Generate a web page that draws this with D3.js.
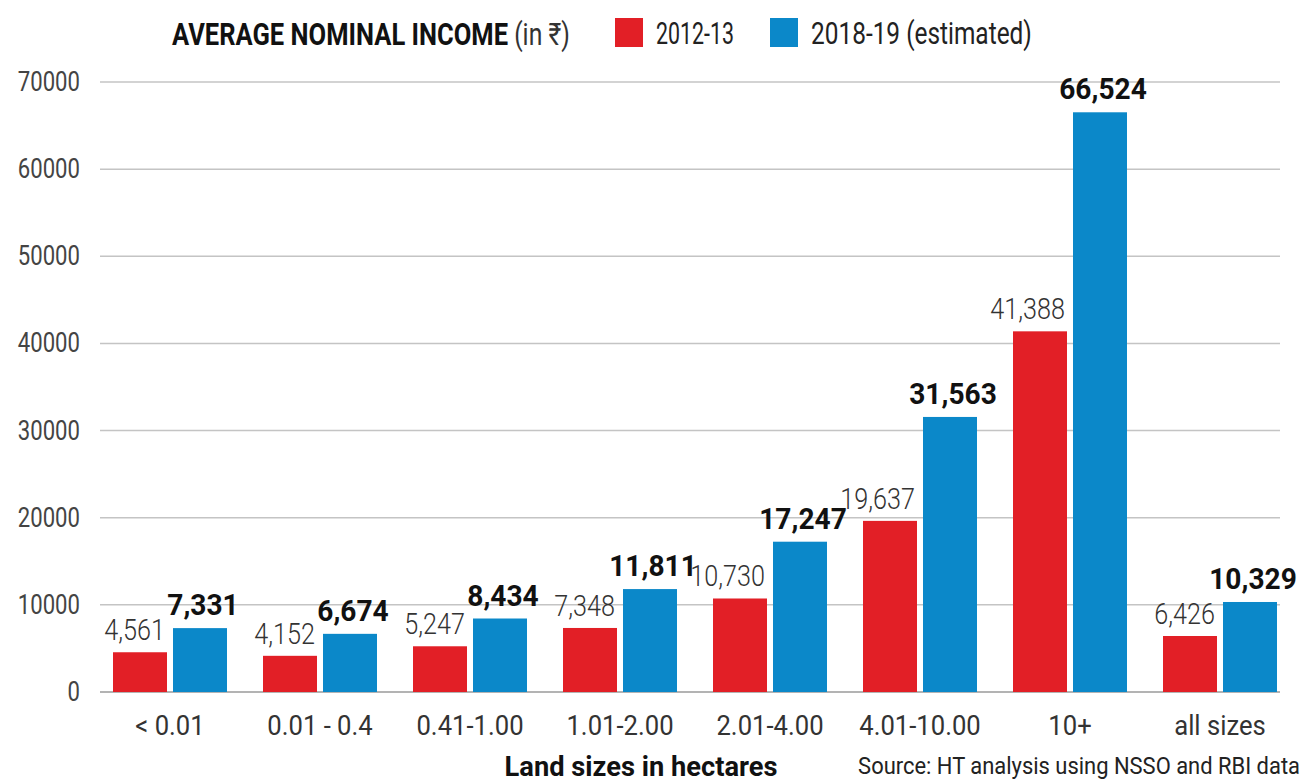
<!DOCTYPE html>
<html lang="en">
<head>
    <meta charset="UTF-8">
    <title>Average nominal income by land size</title>
    <script src="https://d3js.org/d3.v7.min.js"></script>
    <style>
        body { margin: 0; background: #fff; }
        svg { display: block; }
        text { font-family: "Roboto", "Noto Sans", sans-serif; }
        .grid line { stroke: #c4c4c4; stroke-width: 1.5px; }
        .tick-label { fill: #444; font-size: 27px; }
        .cat-label { fill: #333; font-size: 27px; }
        .val-old { fill: #333; font-size: 30px; font-weight: 300; }
        .val-new { fill: #111; font-size: 29px; font-weight: bold; }
    </style>
</head>
<body>
    <svg width="1305" height="783"></svg>
    <script>
        const categories = ["< 0.01", "0.01 - 0.4", "0.41-1.00", "1.01-2.00", "2.01-4.00", "4.01-10.00", "10+", "all sizes"];
        const income2012 = [4561, 4152, 5247, 7348, 10730, 19637, 41388, 6426];
        const income2018 = [7331, 6674, 8434, 11811, 17247, 31563, 66524, 10329];
        const seriesNames = ["2012-13", "2018-19 (estimated)"];
        const yTicks = [0, 10000, 20000, 30000, 40000, 50000, 60000, 70000];

        const red = "#e21f26", blue = "#0b88c9";
        const svg = d3.select("svg");

        // squeeze text horizontally around its anchor: by a factor (<= 2) or to a target width in px
        function squeeze(sel, f) {
            sel.each(function () {
                const t = d3.select(this);
                const len = this.getComputedTextLength();
                const k = f > 2 ? f / len : f;
                const tx = +t.attr("x"), ty = +t.attr("y");
                const prev = t.attr("transform") || "";
                t.attr("x", 0).attr("y", 0)
                    .attr("transform", `${prev} translate(${tx},${ty}) scale(${k},1)`);
            });
        }

        const x = d3.scaleBand().domain(categories).range([95, 1295]).paddingInner(0.24).paddingOuter(0.12);
        const xs = d3.scaleBand().domain([0, 1]).range([0, x.bandwidth()]).paddingInner(0.1);
        const y = d3.scaleLinear().domain([0, 70000]).range([692, 82]);

        // gridlines
        const grid = svg.append("g").attr("class", "grid");
        grid.selectAll("line").data(yTicks).enter().append("line")
            .attr("x1", 100).attr("x2", 1280)
            .attr("y1", d => y(d)).attr("y2", d => y(d))
            .style("stroke", d => d === 0 ? "#9a9a9a" : null);

        svg.append("g").selectAll("text").data(yTicks).enter().append("text")
            .attr("class", "tick-label")
            .attr("x", 80).attr("y", d => y(d) + 9)
            .attr("text-anchor", "end")
            .text(d => d)
            .call(squeeze, 0.82);

        const rows = categories.map((c, i) => ({ cat: c, v: [income2012[i], income2018[i]] }));
        const g = svg.append("g").selectAll("g").data(rows).enter().append("g")
            .attr("transform", d => `translate(${x(d.cat)},0)`);

        g.selectAll("rect").data(d => d.v).enter().append("rect")
            .attr("x", (d, i) => xs(i))
            .attr("width", xs.bandwidth())
            .attr("y", d => y(d))
            .attr("height", d => y(0) - y(d))
            .attr("fill", (d, i) => i === 0 ? red : blue);

        // old values: right-aligned to the red bar
        g.append("text").attr("class", "val-old")
            .attr("x", xs(0) + xs.bandwidth() - 2)
            .attr("y", d => y(d.v[0]) - 12)
            .attr("text-anchor", "end")
            .text(d => d3.format(",")(d.v[0]))
            .call(squeeze, 0.84);

        // new values: bold, over the blue bar
        g.append("text").attr("class", "val-new")
            .attr("x", xs(1) + xs.bandwidth() / 2 + 3)
            .attr("y", d => y(d.v[1]) - 13)
            .attr("text-anchor", "middle")
            .text(d => d3.format(",")(d.v[1]))
            .call(squeeze, 0.97);

        // category labels
        svg.append("g").selectAll("text").data(categories).enter().append("text")
            .attr("class", "cat-label")
            .attr("x", d => x(d) + x.bandwidth() / 2)
            .attr("y", 735)
            .attr("text-anchor", "middle")
            .text(d => d)
            .call(squeeze, 0.95);

        svg.append("text")
            .attr("x", 641).attr("y", 776)
            .attr("text-anchor", "middle")
            .style("font-size", "28px").style("font-weight", "bold").style("fill", "#111")
            .text("Land sizes in hectares")
            .call(squeeze, 273);

        svg.append("text")
            .attr("x", 1300).attr("y", 774)
            .attr("text-anchor", "end")
            .style("font-size", "24px").style("fill", "#222")
            .text("Source: HT analysis using NSSO and RBI data")
            .call(squeeze, 442);

        // legend
        const legend = svg.append("g");
        const title = legend.append("text").attr("x", 172).attr("y", 45)
            .style("font-size", "32px").style("fill", "#111");
        title.append("tspan").style("font-weight", "bold").text("AVERAGE NOMINAL INCOME");
        title.append("tspan").style("fill", "#333").style("font-size", "31px").text(" (in ₹)");
        title.call(squeeze, 398);

        const legX = [615, 770];
        const legW = [78, 221];
        seriesNames.forEach((s, i) => {
            legend.append("rect").attr("x", legX[i]).attr("y", 18).attr("width", 28).attr("height", 29)
                .attr("fill", i === 0 ? red : blue);
            legend.append("text").attr("x", legX[i] + 41).attr("y", 44)
                .style("font-size", "31px").style("fill", "#222").text(s)
                .call(squeeze, legW[i]);
        });
    </script>
</body>
</html>
